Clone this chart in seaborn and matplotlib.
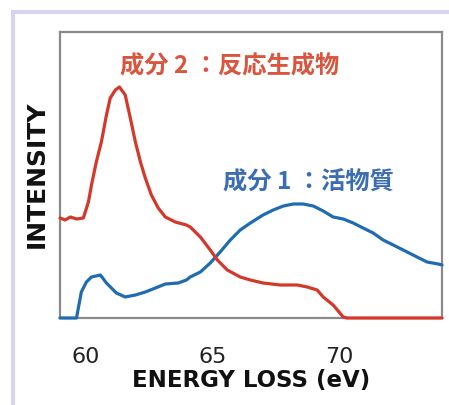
import numpy as np
import pandas as pd
import matplotlib
matplotlib.use("Agg")
import matplotlib.pyplot as plt
import seaborn as sns
from matplotlib.patches import Rectangle

sns.set_style("white")
plt.rcParams['font.family'] = ['DejaVu Sans']

# --- data ---
red_x = [59.0, 59.2, 59.41, 59.65, 59.92, 60.12, 60.24, 60.43, 60.63, 60.83, 60.98, 61.18,
         61.34, 61.57, 61.77, 61.97, 62.17, 62.36, 62.6, 62.87, 63.15, 63.54, 63.98, 64.13,
         64.53, 64.92, 65.2, 65.59, 66.1, 66.5, 67.0, 67.68, 68.35, 68.74, 69.13, 69.37,
         69.76, 70.16, 70.31, 72.0, 74.05]
red_y = [100, 98, 101, 99, 100, 116, 133, 156, 176, 203, 220, 228,
         231, 223, 200, 176, 156, 140, 123, 110, 101, 96, 93, 91,
         81, 68, 58, 48, 41, 38, 35, 33, 33, 31, 28, 21,
         13, 1, 0, 0, 0]
blue_x = [59.0, 59.65, 59.84, 60.04, 60.24, 60.59, 60.83, 61.22, 61.57, 61.97, 62.36, 62.76,
          63.15, 63.66, 63.98, 64.13, 64.53, 64.92, 65.31, 65.71, 66.1, 66.5, 67.0, 67.4,
          67.8, 68.19, 68.58, 68.98, 69.37, 69.76, 70.16, 70.55, 70.94, 71.34, 71.73, 72.13,
          72.52, 72.91, 73.46, 73.9, 74.05]
blue_y = [0, 0, 26, 36, 41, 43, 35, 25, 21, 23, 26, 30,
          34, 35, 38, 41, 46, 55, 66, 78, 88, 95, 103, 108,
          112, 114, 114, 112, 107, 101, 99, 95, 90, 85, 78, 73,
          68, 63, 56, 54, 53]
series_names = ["成分 1 ：活物質", "成分 2 ：反応生成物"]
xticks = [60, 65, 70]
xlabel = "ENERGY LOSS (eV)"
ylabel = "INTENSITY"

df = pd.concat([
    pd.DataFrame({"x": blue_x, "y": blue_y, "s": series_names[0]}),
    pd.DataFrame({"x": red_x, "y": red_y, "s": series_names[1]}),
])

W, H = 449, 405
fig = plt.figure(figsize=(W / 100, H / 100), dpi=100)

# lavender frame
fig.patches.append(Rectangle((13 / W, -0.1), 1.2, 1 - 12 / H + 0.1, transform=fig.transFigure,
                             fill=False, edgecolor="#d9d5ee", linewidth=3))

ax = fig.add_axes([60 / W, (H - 318) / H, (442 - 60) / W, (318 - 32) / H])
sns.lineplot(data=df, x="x", y="y", hue="s", palette=["#1f6cb0", "#d3382a"],
             linewidth=2.3, legend=False, ax=ax, sort=False, estimator=None)
for ln in ax.lines:
    ln.set_clip_on(False)
    ln.set_zorder(5)
    ln.set_solid_joinstyle("round")
ax.set_xlim(59.0, 74.05)
ax.set_ylim(0, 286)
ax.set_xticks(xticks)
ax.set_xticklabels([str(t) for t in xticks])
ax.set_yticks([])
ax.tick_params(axis="x", direction="in", length=5, width=1, color="#999999",
               pad=21, labelsize=16, labelcolor="#222222")
for sp in ax.spines.values():
    sp.set_color("#8a8a8a")
    sp.set_linewidth(1.6)
ax.set_xlabel(xlabel, fontsize=16.5, fontweight="bold", labelpad=1.5, color="#111111")
ax.set_ylabel("")
fig.text(37 / W, 1 - 174 / H, ylabel, rotation=90, ha="center", va="center",
         fontsize=18, fontweight="bold", color="#111111")

cjk = ["Noto Sans CJK JP", "DejaVu Sans"]
fig.text(120 / W, 1 - 67 / H, series_names[1], ha="left", va="center", fontsize=17.5,
         fontweight="bold", color="#d9553d", family=cjk)
fig.text(223 / W, 1 - 183 / H, series_names[0], ha="left", va="center", fontsize=17.5,
         fontweight="bold", color="#3b6db3", family=cjk)

fig.savefig("out.png", dpi=100)
